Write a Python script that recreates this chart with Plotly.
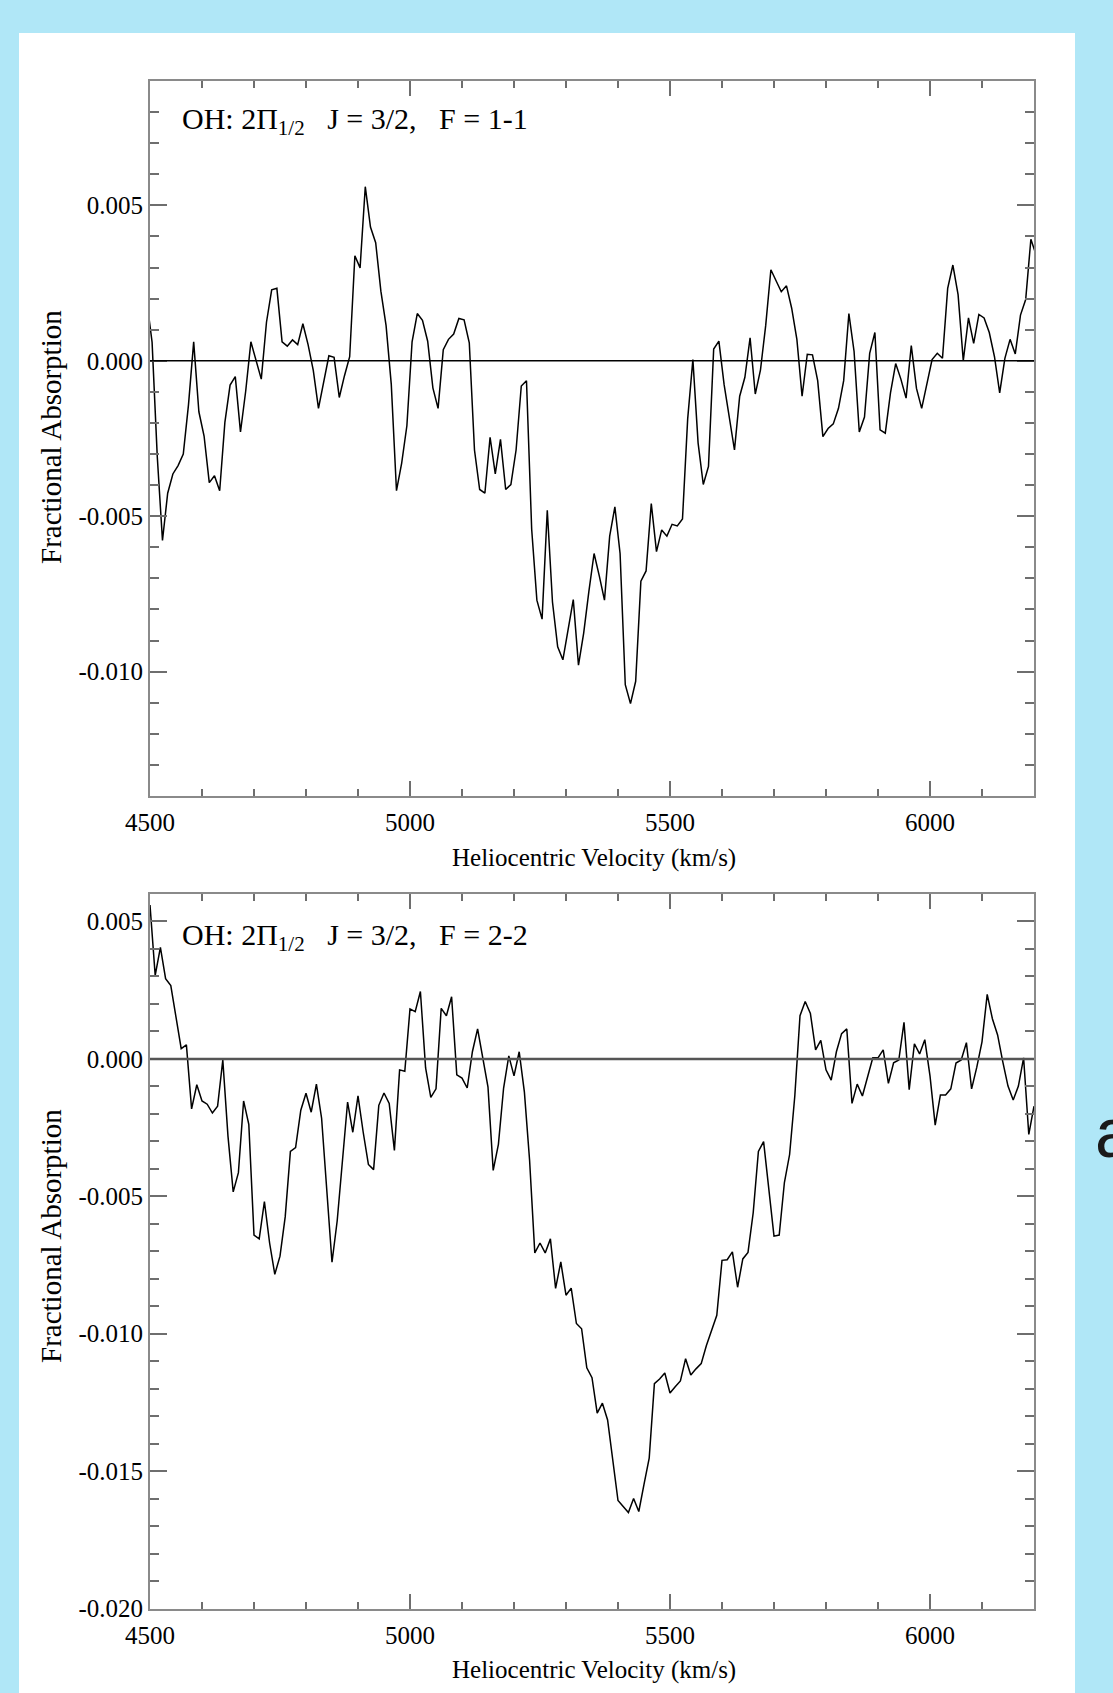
import plotly.graph_objects as go

# ---------------- data ----------------
# Panel 1: OH 2Pi1/2 J=3/2, F=1-1
velocity_f11 = [4494, 4504, 4514, 4524, 4534, 4544, 4554, 4564, 4574, 4584,
                4594, 4604, 4614, 4624, 4634, 4644, 4654, 4664, 4674, 4684,
                4694, 4704, 4714, 4724, 4734, 4744, 4754, 4764, 4774, 4784,
                4794, 4804, 4814, 4824, 4834, 4844, 4854, 4864, 4874, 4884,
                4894, 4904, 4914, 4924, 4934, 4944, 4954, 4964, 4974, 4984,
                4994, 5004, 5014, 5024, 5034, 5044, 5054, 5064, 5074, 5084,
                5094, 5104, 5114, 5124, 5134, 5144, 5154, 5164, 5174, 5184,
                5194, 5204, 5214, 5224, 5234, 5244, 5254, 5264, 5274, 5284,
                5294, 5304, 5314, 5324, 5334, 5344, 5354, 5364, 5374, 5384,
                5394, 5404, 5414, 5424, 5434, 5444, 5454, 5464, 5474, 5484,
                5494, 5504, 5514, 5524, 5534, 5544, 5554, 5564, 5574, 5584,
                5594, 5604, 5614, 5624, 5634, 5644, 5654, 5664, 5674, 5684,
                5694, 5704, 5714, 5724, 5734, 5744, 5754, 5764, 5774, 5784,
                5794, 5804, 5814, 5824, 5834, 5844, 5854, 5864, 5874, 5884,
                5894, 5904, 5914, 5924, 5934, 5944, 5954, 5964, 5974, 5984,
                5994, 6004, 6014, 6024, 6034, 6044, 6054, 6064, 6074, 6084,
                6094, 6104, 6114, 6124, 6134, 6144, 6154, 6164, 6174, 6184,
                6194, 6204]
absorption_f11 = [0.00190, 0.00060, -0.00309, -0.00578, -0.00426, -0.00364, -0.00337, -0.00300, -0.00142, 0.00061,
                  -0.00164, -0.00242, -0.00392, -0.00370, -0.00418, -0.00198, -0.00078, -0.00051, -0.00229, -0.00098,
                  0.00061, 0.00002, -0.00059, 0.00124, 0.00228, 0.00233, 0.00061, 0.00047, 0.00067, 0.00052,
                  0.00119, 0.00052, -0.00031, -0.00153, -0.00070, 0.00016, 0.00011, -0.00118, -0.00048, 0.00013,
                  0.00338, 0.00299, 0.00560, 0.00430, 0.00380, 0.00224, 0.00113, -0.00076, -0.00418, -0.00329,
                  -0.00209, 0.00061, 0.00152, 0.00130, 0.00063, -0.00087, -0.00153, 0.00036, 0.00069, 0.00086,
                  0.00136, 0.00132, 0.00058, -0.00287, -0.00414, -0.00426, -0.00246, -0.00364, -0.00253, -0.00414,
                  -0.00398, -0.00287, -0.00081, -0.00064, -0.00542, -0.00770, -0.00831, -0.00481, -0.00776, -0.00920,
                  -0.00962, -0.00864, -0.00768, -0.00979, -0.00876, -0.00742, -0.00620, -0.00692, -0.00770, -0.00564,
                  -0.00470, -0.00620, -0.01042, -0.01103, -0.01031, -0.00709, -0.00676, -0.00459, -0.00614, -0.00544,
                  -0.00564, -0.00526, -0.00531, -0.00509, -0.00187, 0.00004, -0.00264, -0.00398, -0.00340, 0.00038,
                  0.00063, -0.00076, -0.00187, -0.00287, -0.00114, -0.00053, 0.00074, -0.00107, -0.00029, 0.00113,
                  0.00293, 0.00260, 0.00222, 0.00241, 0.00169, 0.00069, -0.00114, 0.00021, 0.00019, -0.00064,
                  -0.00244, -0.00218, -0.00203, -0.00153, -0.00064, 0.00152, 0.00030, -0.00229, -0.00181, 0.00024,
                  0.00091, -0.00222, -0.00233, -0.00103, -0.00009, -0.00059, -0.00120, 0.00049, -0.00089, -0.00153,
                  -0.00070, 0.00004, 0.00024, 0.00008, 0.00233, 0.00308, 0.00213, 0.00000, 0.00138, 0.00056,
                  0.00149, 0.00138, 0.00091, 0.00013, -0.00103, 0.00008, 0.00069, 0.00022, 0.00147, 0.00197,
                  0.00391, 0.00341]

# Panel 2: OH 2Pi1/2 J=3/2, F=2-2
velocity_f22 = [4500, 4510, 4520, 4530, 4540, 4550, 4560, 4570, 4580, 4590,
                4600, 4610, 4620, 4630, 4640, 4650, 4660, 4670, 4680, 4690,
                4700, 4710, 4720, 4730, 4740, 4750, 4760, 4770, 4780, 4790,
                4800, 4810, 4820, 4830, 4840, 4850, 4860, 4870, 4880, 4890,
                4900, 4910, 4920, 4930, 4940, 4950, 4960, 4970, 4980, 4990,
                5000, 5010, 5020, 5030, 5040, 5050, 5060, 5070, 5080, 5090,
                5100, 5110, 5120, 5130, 5140, 5150, 5160, 5170, 5180, 5190,
                5200, 5210, 5220, 5230, 5240, 5250, 5260, 5270, 5280, 5290,
                5300, 5310, 5320, 5330, 5340, 5350, 5360, 5370, 5380, 5390,
                5400, 5410, 5420, 5430, 5440, 5450, 5460, 5470, 5480, 5490,
                5500, 5510, 5520, 5530, 5540, 5550, 5560, 5570, 5580, 5590,
                5600, 5610, 5620, 5630, 5640, 5650, 5660, 5670, 5680, 5690,
                5700, 5710, 5720, 5730, 5740, 5750, 5760, 5770, 5780, 5790,
                5800, 5810, 5820, 5830, 5840, 5850, 5860, 5870, 5880, 5890,
                5900, 5910, 5920, 5930, 5940, 5950, 5960, 5970, 5980, 5990,
                6000, 6010, 6020, 6030, 6040, 6050, 6060, 6070, 6080, 6090,
                6100, 6110, 6120, 6130, 6140, 6150, 6160, 6170, 6180, 6190,
                6200]
absorption_f22 = [0.00560, 0.00304, 0.00406, 0.00292, 0.00267, 0.00143, 0.00037, 0.00051, -0.00182, -0.00094,
                  -0.00153, -0.00165, -0.00197, -0.00172, -0.00004, -0.00282, -0.00484, -0.00414, -0.00153, -0.00238,
                  -0.00641, -0.00655, -0.00519, -0.00670, -0.00784, -0.00718, -0.00575, -0.00337, -0.00323, -0.00187,
                  -0.00125, -0.00194, -0.00092, -0.00216, -0.00472, -0.00740, -0.00589, -0.00384, -0.00157, -0.00267,
                  -0.00135, -0.00267, -0.00384, -0.00403, -0.00169, -0.00124, -0.00162, -0.00333, -0.00040, -0.00045,
                  0.00182, 0.00172, 0.00245, -0.00033, -0.00140, -0.00109, 0.00184, 0.00157, 0.00226, -0.00058,
                  -0.00070, -0.00106, 0.00026, 0.00109, 0.00004, -0.00103, -0.00406, -0.00311, -0.00106, 0.00011,
                  -0.00062, 0.00026, -0.00121, -0.00370, -0.00706, -0.00670, -0.00706, -0.00655, -0.00835, -0.00739,
                  -0.00860, -0.00834, -0.00963, -0.00982, -0.01124, -0.01160, -0.01289, -0.01253, -0.01314, -0.01453,
                  -0.01607, -0.01629, -0.01651, -0.01600, -0.01647, -0.01548, -0.01453, -0.01182, -0.01165, -0.01143,
                  -0.01216, -0.01193, -0.01172, -0.01091, -0.01150, -0.01128, -0.01109, -0.01043, -0.00989, -0.00933,
                  -0.00733, -0.00731, -0.00702, -0.00831, -0.00728, -0.00704, -0.00560, -0.00337, -0.00301, -0.00472,
                  -0.00645, -0.00641, -0.00450, -0.00348, -0.00135, 0.00157, 0.00209, 0.00165, 0.00033, 0.00067,
                  -0.00040, -0.00077, 0.00026, 0.00092, 0.00109, -0.00162, -0.00092, -0.00135, -0.00070, 0.00004,
                  0.00004, 0.00033, -0.00089, -0.00014, -0.00004, 0.00133, -0.00112, 0.00055, 0.00018, 0.00070,
                  -0.00062, -0.00241, -0.00131, -0.00131, -0.00109, -0.00015, -0.00004, 0.00059, -0.00109, -0.00030,
                  0.00062, 0.00235, 0.00146, 0.00087, -0.00011, -0.00099, -0.00150, -0.00099, 0.00004, -0.00275,
                  -0.00172]

# ticks and texts
x_tick_vals = [4500, 5000, 5500, 6000]
x_tick_text = ["4500", "5000", "5500", "6000"]
y1_tick_vals = [0.005, 0.0, -0.005, -0.010]
y1_tick_text = ["0.005", "0.000", "-0.005", "-0.010"]
y2_tick_vals = [0.005, 0.0, -0.005, -0.010, -0.015, -0.020]
y2_tick_text = ["0.005", "0.000", "-0.005", "-0.010", "-0.015", "-0.020"]
x_range = [4500, 6200]
y1_range = [-0.014, 0.009]
y2_range = [-0.020, 0.006]
x_title = "Heliocentric Velocity (km/s)"
y_title = "Fractional Absorption"
sp = "\u00a0"
panel_titles = ["OH: 2\u03a0<sub>1/2</sub>" + sp * 3 + "J = 3/2," + sp * 3 + "F = 1-1",
                "OH: 2\u03a0<sub>1/2</sub>" + sp * 3 + "J = 3/2," + sp * 3 + "F = 2-2"]

# ---------------- layout geometry (pixels) ----------------
W, H = 1113, 1693
BG = "#b0e7f7"
def px_x(p):
    return p / W
def px_y(p):
    return 1 - p / H

SERIF = "Liberation Serif, Times New Roman, serif"
AXIS_GREY = "#8a8a8a"
TICK_GREY = "#6e6e6e"

fig = go.Figure()
fig.add_trace(go.Scatter(x=velocity_f11, y=absorption_f11, mode="lines",
                         line=dict(color="black", width=1.5),
                         xaxis="x", yaxis="y", showlegend=False))
fig.add_trace(go.Scatter(x=velocity_f22, y=absorption_f22, mode="lines",
                         line=dict(color="black", width=1.5),
                         xaxis="x2", yaxis="y2", showlegend=False))

def xaxis_style(anchor):
    return dict(
        domain=[px_x(150), px_x(1034)], anchor=anchor, range=x_range,
        tickmode="array", tickvals=x_tick_vals, ticktext=x_tick_text,
        ticks="inside", ticklen=15, tickwidth=1.5, tickcolor=TICK_GREY,
        minor=dict(tickmode="linear", tick0=4500, dtick=100, ticks="inside",
                   ticklen=7, tickwidth=1.5, tickcolor=TICK_GREY, showgrid=False),
        showline=True, linecolor=AXIS_GREY, linewidth=2, mirror="allticks",
        showgrid=False, zeroline=False,
        tickfont=dict(family=SERIF, size=25, color="black"),
        ticklabelstandoff=3,
    )

def yaxis_style(anchor, dom, rng, tv, tt):
    return dict(
        domain=dom, anchor=anchor, range=rng,
        tickmode="array", tickvals=tv, ticktext=tt,
        ticks="inside", ticklen=17, tickwidth=1.5, tickcolor=TICK_GREY,
        minor=dict(tickmode="linear", tick0=0, dtick=0.001, ticks="inside",
                   ticklen=9, tickwidth=1.5, tickcolor=TICK_GREY, showgrid=False),
        showline=True, linecolor=AXIS_GREY, linewidth=2, mirror="allticks",
        showgrid=False, zeroline=False,
        tickfont=dict(family=SERIF, size=25, color="black"),
        ticklabelstandoff=0,
    )

fig.update_layout(
    width=W, height=H,
    margin=dict(l=0, r=0, t=0, b=0, autoexpand=False),
    paper_bgcolor=BG,
    plot_bgcolor="rgba(0,0,0,0)",
    showlegend=False,
    xaxis=xaxis_style("y"),
    yaxis=yaxis_style("x", [px_y(796), px_y(81)], y1_range, y1_tick_vals, y1_tick_text),
    xaxis2=xaxis_style("y2"),
    yaxis2=yaxis_style("x2", [px_y(1608.5), px_y(894)], y2_range, y2_tick_vals, y2_tick_text),
    shapes=[
        dict(type="rect", xref="paper", yref="paper", layer="below",
             x0=px_x(19), x1=px_x(1075), y0=0, y1=px_y(33),
             fillcolor="white", line=dict(width=0)),
        # zero reference lines, drawn above the inward ticks
        dict(type="line", xref="x", yref="y", layer="above",
             x0=x_range[0], x1=x_range[1], y0=0, y1=0,
             line=dict(color="black", width=1.5)),
        dict(type="line", xref="x2", yref="y2", layer="above",
             x0=x_range[0], x1=x_range[1], y0=0, y1=0,
             line=dict(color="#555555", width=2.5)),
    ],
)

ann = []
for title, ty in zip(panel_titles, [121, 937]):
    ann.append(dict(text=title, x=px_x(180), y=px_y(ty), xref="paper", yref="paper",
                    xanchor="left", yanchor="middle", showarrow=False,
                    font=dict(family=SERIF, size=30, color="black")))
for ty in [858, 1670]:
    ann.append(dict(text=x_title, x=px_x(594), y=px_y(ty), xref="paper", yref="paper",
                    xanchor="center", yanchor="middle", showarrow=False,
                    font=dict(family=SERIF, size=25, color="black")))
for ty in [437, 1236]:
    ann.append(dict(text=y_title, x=px_x(51), y=px_y(ty), xref="paper", yref="paper",
                    xanchor="center", yanchor="middle", showarrow=False, textangle=-90,
                    font=dict(family=SERIF, size=29, color="black")))
ann.append(dict(text="a", x=px_x(1093), y=px_y(1133), xref="paper", yref="paper",
                xanchor="left", yanchor="middle", showarrow=False,
                font=dict(family="Liberation Sans, Arial, sans-serif", size=70, color="#1a1a1a")))
fig.update_layout(annotations=ann)

fig.write_html("out.html",
               config={"displayModeBar": False},
               post_script="document.body.style.margin='0px';"
                           "document.body.style.background='" + BG + "';")
